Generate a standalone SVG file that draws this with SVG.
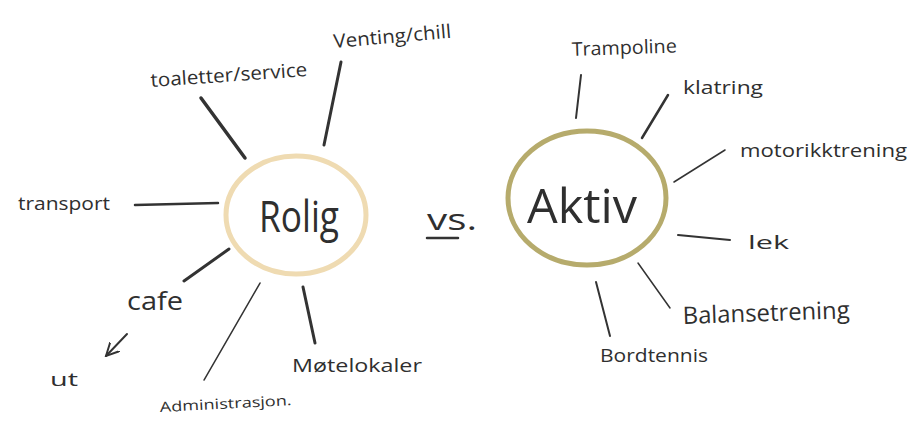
<svg xmlns="http://www.w3.org/2000/svg" width="918" height="422" viewBox="0 0 918 422">
<style>
text{font-family:"Open Sans","Liberation Sans",sans-serif;fill:#2f2f2f}
.lbl{font-size:19px}
.ln{stroke:#333;stroke-linecap:round;fill:none}
</style>
<defs>
<marker id="ah" viewBox="0 0 10 10" refX="9" refY="5" markerWidth="14" markerHeight="14" orient="auto" markerUnits="userSpaceOnUse">
<path d="M0,0.5 L9,5 L0,9.5" fill="none" stroke="#333" stroke-width="1.4" stroke-linecap="round"/>
</marker>
</defs>
<rect width="918" height="422" fill="#fff"/>
<g id="connectors">
<line class="ln" x1="341" y1="62" x2="324" y2="145" stroke-width="3"/>
<line class="ln" x1="201" y1="98" x2="245" y2="158" stroke-width="3.5"/>
<line class="ln" x1="135" y1="205" x2="218" y2="203" stroke-width="2.5"/>
<line class="ln" x1="229" y1="249" x2="184" y2="281" stroke-width="3"/>
<line class="ln" x1="127" y1="334" x2="106" y2="356" stroke-width="2" marker-end="url(#ah)"/>
<line class="ln" x1="260" y1="283" x2="204" y2="380" stroke-width="1.5"/>
<line class="ln" x1="303" y1="287" x2="315" y2="343" stroke-width="3"/>
<line class="ln" x1="581" y1="75" x2="576" y2="118" stroke-width="2"/>
<line class="ln" x1="668" y1="95" x2="642" y2="138" stroke-width="2.5"/>
<line class="ln" x1="725" y1="150" x2="674" y2="182" stroke-width="1.5"/>
<line class="ln" x1="678" y1="235" x2="730" y2="240" stroke-width="2"/>
<line class="ln" x1="638" y1="263" x2="670" y2="308" stroke-width="1.5"/>
<line class="ln" x1="596" y1="282" x2="610" y2="336" stroke-width="2"/>
</g>
<g id="rolig">
<ellipse cx="296" cy="215" rx="70" ry="59" fill="none" stroke="#efdbb2" stroke-width="5"/>
<text x="299" y="232" font-size="44" text-anchor="middle" textLength="80" lengthAdjust="spacingAndGlyphs">Rolig</text>
</g>
<g id="vs">
<text x="427" y="230" font-size="30" textLength="50" lengthAdjust="spacingAndGlyphs">vs.</text>
<line class="ln" x1="427" y1="238" x2="458" y2="238" stroke-width="2.5"/>
</g>
<g id="aktiv">
<ellipse cx="587" cy="198" rx="79" ry="67" fill="none" stroke="#b6ab6c" stroke-width="5"/>
<text x="582" y="223" font-size="48" text-anchor="middle" textLength="110" lengthAdjust="spacingAndGlyphs">Aktiv</text>
</g>
<g id="venting"><text class="lbl" x="334" y="48" transform="rotate(-5 334 48)" textLength="118" lengthAdjust="spacingAndGlyphs">Venting/chill</text></g>
<g id="toaletter"><text class="lbl" x="151" y="87" transform="rotate(-4 151 87)" textLength="157" lengthAdjust="spacingAndGlyphs">toaletter/service</text></g>
<g id="transport"><text class="lbl" x="18" y="210" textLength="92" lengthAdjust="spacingAndGlyphs">transport</text></g>
<g id="cafe"><text x="127" y="310" font-size="26" textLength="56" lengthAdjust="spacingAndGlyphs">cafe</text></g>
<g id="ut"><text class="lbl" x="50" y="386" textLength="28" lengthAdjust="spacingAndGlyphs">ut</text></g>
<g id="administrasjon"><text x="160" y="412" font-size="14" transform="rotate(-3 160 412)" textLength="132" lengthAdjust="spacingAndGlyphs">Administrasjon.</text></g>
<g id="motelokaler"><text class="lbl" x="292" y="372" textLength="130" lengthAdjust="spacingAndGlyphs">Møtelokaler</text></g>
<g id="trampoline"><text class="lbl" x="572" y="56" transform="rotate(-2 572 56)" textLength="105" lengthAdjust="spacingAndGlyphs">Trampoline</text></g>
<g id="klatring"><text class="lbl" x="683" y="94" textLength="80" lengthAdjust="spacingAndGlyphs">klatring</text></g>
<g id="motorikktrening"><text class="lbl" x="740" y="157" textLength="167" lengthAdjust="spacingAndGlyphs">motorikktrening</text></g>
<g id="lek"><text class="lbl" x="748" y="249" font-size="22" textLength="41" lengthAdjust="spacingAndGlyphs">lek</text></g>
<g id="balansetrening"><text x="683" y="324" font-size="24" transform="rotate(-2 683 324)" textLength="167" lengthAdjust="spacingAndGlyphs">Balansetrening</text></g>
<g id="bordtennis"><text class="lbl" x="600" y="362" textLength="108" lengthAdjust="spacingAndGlyphs">Bordtennis</text></g>
</svg>
